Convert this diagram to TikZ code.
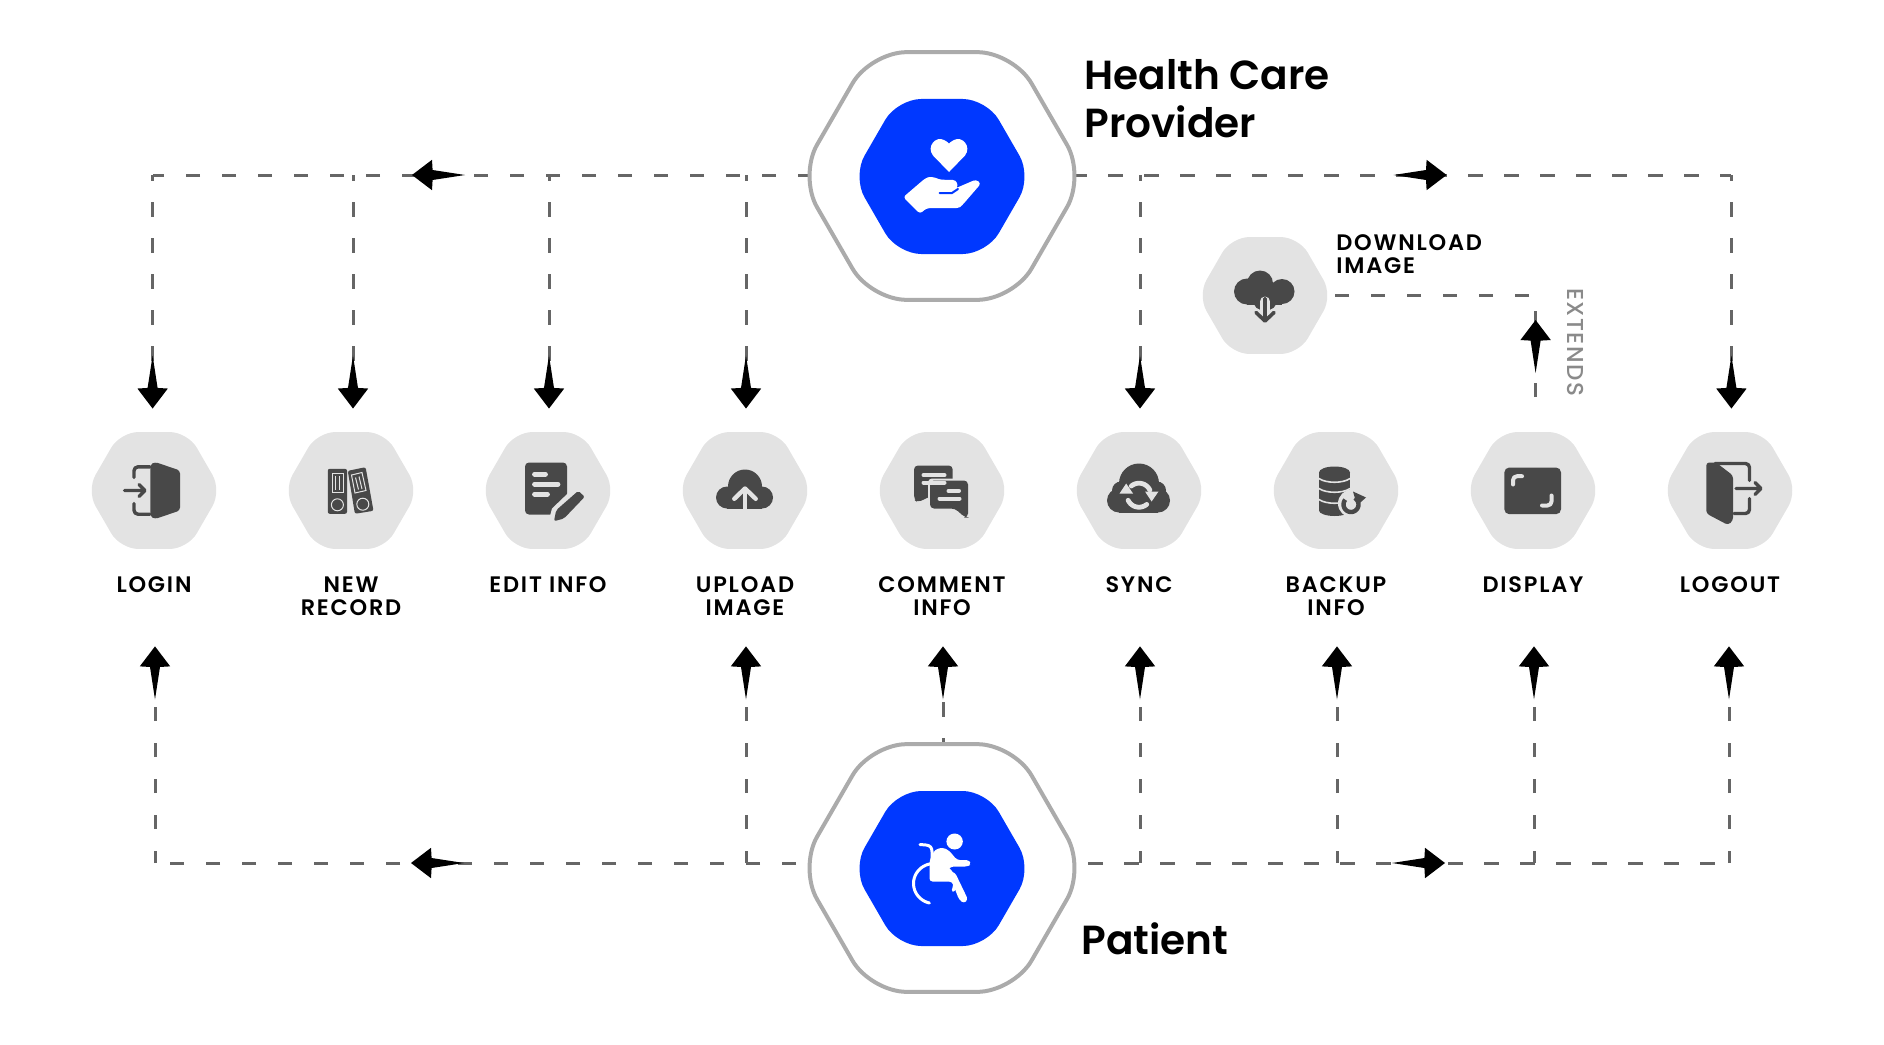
\documentclass[tikz,border=0pt]{standalone}
\usepackage{fontspec}
\setmainfont{Poppins}
\newfontfamily\titlefont{Poppins SemiBold}
\newfontfamily\labelfont[LetterSpace=8]{Poppins SemiBold}
\newfontfamily\extfont[LetterSpace=6.5]{Poppins Medium}
\usetikzlibrary{arrows.meta,shapes.geometric,backgrounds,decorations.markings}
\pgfdeclarearrow{
  name=LongKite,
  setup code={\pgfarrowssettipend{0pt}\pgfarrowssetbackend{-26.5pt}\pgfarrowssetlineend{-20pt}},
  drawing code={
    \pgfsetfillcolor{black}
    \pgfpathmoveto{\pgfpoint{0pt}{0pt}}
    \pgfpathlineto{\pgfpoint{-10pt}{7.6pt}}
    \pgfpathlineto{\pgfpoint{-10.3pt}{2.5pt}}
    \pgfpathlineto{\pgfpoint{-26.5pt}{0pt}}
    \pgfpathlineto{\pgfpoint{-10.3pt}{-2.5pt}}
    \pgfpathlineto{\pgfpoint{-10pt}{-7.6pt}}
    \pgfpathclose
    \pgfusepathqfill
  }
}
\definecolor{hexgray}{HTML}{E3E3E3}
\definecolor{icondark}{HTML}{484848}
\definecolor{heroblue}{HTML}{0038FF}
\definecolor{ringgray}{HTML}{ABABAB}
\definecolor{dashgray}{HTML}{666666}
\definecolor{extgray}{HTML}{8A8A8A}
\tikzset{
  hexbase/.style={regular polygon,regular polygon sides=6,inner sep=0pt,outer sep=0pt},
  smallhex/.style={hexbase,minimum size=67.5pt,fill=hexgray,rounded corners=9pt},
  ringhex/.style={hexbase,minimum size=143pt,fill=white,draw=ringgray,line width=2pt,rounded corners=18pt},
  bluehex/.style={hexbase,minimum size=89.5pt,fill=heroblue,rounded corners=12pt},
  lab/.style={font=\labelfont\fontsize{11.2}{11.4}\selectfont,align=center,inner sep=0pt,text=black},
  ttl/.style={font=\titlefont\fontsize{20.3}{24}\selectfont,align=left,inner sep=0pt,text=black},
  conn/.style={draw=dashgray,line width=1.5pt,dash pattern=on 7.25pt off 10.75pt},
  kitehead/.style={-{LongKite}},
  markhead/.style={postaction={decorate},decoration={markings,mark=at position #1 with {\arrow{LongKite}}}},
  ic/.style={fill=icondark},
  icl/.style={draw=icondark,line width=1.7pt,line cap=round,line join=round},
  gl/.style={draw=hexgray,line width=1.7pt,line cap=round,line join=round},
  wl/.style={draw=white,line width=1.5pt,line cap=round,line join=round},
}
\begin{document}
\begin{tikzpicture}[x=0.5pt,y=-0.5pt]
\useasboundingbox (0,0) rectangle (1884,1044);
% hexagon nodes
\node[ringhex] (hcp) at (942,176) {};
\node[bluehex] (hcpin) at (942,176.5) {};
\node[ringhex] (pat) at (942,868) {};
\node[bluehex] (patin) at (942,868.5) {};
\node[smallhex] (login) at (154,490.5) {};
\node[smallhex] (newrec) at (351,490.5) {};
\node[smallhex] (edit) at (548,490.5) {};
\node[smallhex] (upload) at (745,490.5) {};
\node[smallhex] (comment) at (942,490.5) {};
\node[smallhex] (sync) at (1139,490.5) {};
\node[smallhex] (backup) at (1336,490.5) {};
\node[smallhex] (display) at (1533,490.5) {};
\node[smallhex] (logout) at (1730,490.5) {};
\node[smallhex] (dl) at (1265,295.5) {};
% labels
\node[ttl,anchor=base west] (thcp) at (1084,137.5) {Health Care\\Provider};
\node[ttl,anchor=base west] (tpat) at (1081,954) {Patient};
\foreach \n/\t in {login/LOGIN,edit/EDIT INFO,sync/SYNC,display/DISPLAY,logout/LOGOUT}
  \node[lab,anchor=base] (l\n) at ([yshift=-21.9pt]\n.south) {\t};
\foreach \n/\t in {newrec/NEW\\RECORD,upload/UPLOAD\\IMAGE,comment/COMMENT\\INFO,backup/BACKUP\\INFO}
  \node[lab,anchor=base] (l\n) at ([yshift=-33.3pt]\n.south) {\t};
\node[lab,anchor=base west,align=left] (ldl) at (1336,273) {DOWNLOAD\\IMAGE};
\node[font=\extfont\fontsize{11.5}{12}\selectfont,text=extgray,rotate=-90,inner sep=0pt] (lext) at (1575.5,342) {EXTENDS};
% connectors
\coordinate (tt) at ([yshift=.5pt]hcp.center);
\coordinate (bt) at ([yshift=2.5pt]pat.center);
\begin{scope}[on background layer]
\draw[conn,dash phase=7pt,markhead=265pt] (tt) -- ([xshift=-.7pt]login.north |- tt);
\draw[conn,dash phase=7pt,markhead=252.3pt] (tt) -- ([xshift=.7pt]logout.north |- tt);
\draw[conn,dash phase=17pt,markhead=265.5pt] (bt) -- ([xshift=.5pt]login.south |- bt);
\draw[conn,dash phase=17pt,markhead=251.5pt] (bt) -- ([xshift=-.5pt]logout.south |- bt);
\foreach \n/\s in {login/-.7,newrec/1,edit/.5,upload/.5,sync/.5,logout/.7}
  \draw[conn,dash phase=4.4pt,kitehead] ([xshift=\s pt]\n.north |- tt) -- ([xshift=\s pt,yshift=11.75pt]\n.north);
\foreach \n/\s in {login/.5,upload/.5,sync/.5,backup/.5,display/.5,logout/-.5}
  \draw[conn,dash phase=1pt,kitehead] ([xshift=\s pt]\n.south |- bt) -- ([xshift=\s pt,yshift=-48.7pt]\n.south);
\draw[conn,dash phase=4.4pt,kitehead] ([xshift=.5pt]pat.north) -- ([xshift=.5pt,yshift=-48.7pt]comment.south);
\draw[conn,markhead=38.5pt] ([xshift=1.3pt,yshift=17.5pt]display.north) |- ([xshift=1pt]dl.east);
\end{scope}
% icon: login
\begin{scope}[shift={(login.center)}]
\fill[ic,rounded corners=1.5pt] (-3.6,-26)--(1,-28.5)--(26,-20)--(26,20)--(1,28.5)--(-3.6,26)--cycle;
\draw[icl,rounded corners=2pt] (-4,-23.7)--(-20,-23.7)--(-20,-13);
\draw[icl,rounded corners=2pt] (-20,13)--(-20,23.7)--(-4,23.7);
\draw[icl] (-29.5,0)--(-10,0) (-15,-6)--(-9,0)--(-15,6);
\end{scope}
% icon: new record
\begin{scope}[shift={(newrec.center)}]
\fill[ic,rounded corners=1pt] (-23.2,-21.7) rectangle (-4,23.3);
\fill[ic,rounded corners=1pt] (-3.2,-19.7)--(14.6,-23.3)--(22.5,20.3)--(3.9,23.3)--cycle;
\draw[hexgray,line width=.5pt] (-19,-17.5) rectangle (-8,1.5) (-15.5,-14.5)--(-15.5,-1) (-11.5,-14.5)--(-11.5,-1);
\draw[hexgray,line width=.5pt] (-13.6,14.3) circle[radius=6];
\draw[hexgray,line width=.5pt] (0.5,-15.5)--(11,-18)--(15,0)--(4,2.5)--cycle (4.5,-13)--(7.5,-1) (8,-14)--(11,-1.5);
\draw[hexgray,line width=.5pt] (11.8,13.7) circle[radius=6];
\end{scope}
% icon: edit
\begin{scope}[shift={(edit.center)}]
\fill[ic,rounded corners=2pt] (-23,-28) rectangle (19,24);
\draw[gl,line width=2.4pt] (-13.5,-16.3)--(-2.5,-16.3) (-13.5,-6.3)--(10,-6.3) (-13.5,3.7)--(-.5,3.7);
\fill[hexgray] (4,18) -- (28,-5) -- (42,8) -- (18,33) -- (0,33) -- cycle;
\fill[ic,rounded corners=1pt] (8.2,19.7)--(30.3,.3)--(36.7,6.3)--(16,28)--(6,30.7)--cycle;
\end{scope}
% icon: upload
\begin{scope}[shift={(upload.center)}]
\fill[ic] (-18,7) circle[radius=11];
\fill[ic] (17,7) circle[radius=11];
\fill[ic] (0,-4) circle[radius=17];
\fill[ic] (-18,-2) rectangle (17,18);
\draw[gl,line width=2.2pt] (-10.7,8.3)--(0,-2)--(10.7,8.3);
\draw[hexgray,line width=2.2pt] (0,-2)--(0,18);
\end{scope}
% icon: comment
\begin{scope}[shift={(comment.center)}]
\fill[ic,rounded corners=2pt] (-28,-25)--(10.7,-25)--(10.7,0)--(-12,6)--(-24.5,12)--(-28,9)--cycle;
\fill[hexgray,rounded corners=2pt] (-14,-12) rectangle (28,17);
\fill[ic,rounded corners=2pt] (-12,-10)--(26,-10)--(26,27)--(23,27)--(13,18)--(-12,18)--cycle;
\draw[gl,line width=2pt] (-18.5,-15.3)--(2.5,-15.3) (-18.5,-8)--(2.5,-8) (6.5,.3)--(17,.3) (-2.5,8)--(17.5,8);
\end{scope}
% icon: sync
\begin{scope}[shift={(sync.center)}]
\fill[ic] (-20,10) circle[radius=12];
\fill[ic] (19,10) circle[radius=12];
\fill[ic] (0,-7) circle[radius=20];
\fill[ic] (-20,-2) rectangle (19,22);
\fill[ic] (-18,0) circle[radius=9];
\fill[ic] (18,0) circle[radius=9];
\draw[gl,line width=2.4pt] plot[domain=-130:-25,samples=16,smooth] ({12*cos(\x)},{4.7+12*sin(\x)});
\draw[gl,line width=2.4pt] plot[domain=50:155,samples=16,smooth] ({12*cos(\x)},{4.7+12*sin(\x)});
\fill[hexgray] (6,1)--(19.5,1)--(12.6,11)--cycle;
\fill[hexgray] (-19.5,3)--(-6,3)--(-12.8,-7)--cycle;
\end{scope}
% icon: backup
\begin{scope}[shift={(backup.center)}]
\fill[ic] (-17,-18) rectangle (14,20);
\fill[ic] (-1.5,-18) ellipse[x radius=15.5,y radius=6];
\fill[ic] (-1.5,20) ellipse[x radius=15.5,y radius=5.5];
\draw[gl,line width=.8pt] (-17,-12) .. controls (-10,-7) and (7,-7) .. (14,-12);
\draw[gl,line width=.8pt] (-17,-2) .. controls (-10,3) and (7,3) .. (14,-2);
\draw[gl,line width=.8pt] (-17,9) .. controls (-10,14) and (7,14) .. (14,9);
\fill[hexgray] (16,13) circle[radius=14];
\draw[icl,line width=2.2pt,line cap=butt] plot[domain=-60:220,samples=24,smooth] ({15+7.5*cos(\x)},{14+7.5*sin(\x)});
\fill[ic] (17,1)--(30,7)--(21,15)--cycle;
\end{scope}
% icon: display
\begin{scope}[shift={(display.center)}]
\fill[ic,rounded corners=2.5pt] (-28.7,-23) rectangle (28,23.7);
\draw[gl,line width=2pt,rounded corners=2pt] (-20,-6)--(-20,-14.3)--(-11,-14.3);
\draw[gl,line width=2pt,rounded corners=2pt] (18.5,5)--(18.5,15)--(9,15);
\end{scope}
% icon: logout
\begin{scope}[shift={(logout.center)}]
\draw[icl,rounded corners=2pt] (-15,-27)--(19.5,-27)--(19.5,-10);
\draw[icl,rounded corners=2pt] (19.5,8)--(19.5,23)--(4,23);
\fill[ic,rounded corners=1.5pt] (-23.7,-28)--(-14,-28)--(3,-15)--(3,30)--(-2,34.5)--(-23.7,23)--cycle;
\draw[icl] (6,-2)--(30,-2) (25,-8)--(31,-2)--(25,4);
\end{scope}
% icon: download
\begin{scope}[shift={(dl.center)}]
\fill[ic] (-18,-4) circle[radius=13];
\fill[ic] (17,-4) circle[radius=12.5];
\fill[ic] (-5,-12) circle[radius=13];
\fill[ic] (0,4) circle[radius=12];
\fill[ic] (-18,-4) rectangle (17,9);
\draw[hexgray,line width=5pt,line cap=round] (0,6)--(0,20);
\draw[hexgray,line width=4.5pt,line cap=round,line join=round] (-9,17)--(0,25.5)--(9,17);
\draw[icl,line width=1.8pt] (0,3)--(0,25) (-9,17)--(0,25.5)--(9,17);
\end{scope}
% icon: heart and hand
\begin{scope}[shift={(hcpin.center)}]
\fill[white] (7,-4.5) -- (-9,-21) .. controls (-16,-30) and (-6,-41) .. (2,-36.5) .. controls (5,-35) and (7,-33) .. (7,-33) .. controls (7,-33) and (9,-35) .. (12,-36.5) .. controls (20,-41) and (30,-30) .. (23,-21) -- cycle;
\fill[white,rounded corners=1.5pt] (-38.8,20.7) -- (-17,2) .. controls (-12,0) and (-7,1) .. (-3,3) -- (8,3.5) .. controls (15,3.5) and (16,9) .. (13,12) -- (34,3) -- (39,7) -- (20,29) -- (16.6,31.7) -- (-15.6,31.7) -- (-22,37.3) -- cycle;
\draw[heroblue,line width=1pt,line cap=round] (-2.4,16.5)--(10,16.5)--(16,12.5);
\end{scope}
% icon: wheelchair
\begin{scope}[shift={(patin.center)}]
\fill[white] (12.6,-27) ellipse[x radius=8.2,y radius=8];
\fill[white,rounded corners=1.5pt] (-12.5,-8)--(-7,-19)--(1,-21)--(7,-18)--(15,-8.5)--(27,-8.5)--(29,-4.5)--(26,-2)--(9,-2)--(5,2)--(13,4)--(26,31)--(22,35)--(17,31)--(10,13)--(-12.5,13)--cycle;
\draw[wl] plot[domain=-257:20,samples=40,smooth] ({-8+20.5*cos(\x)},{15+20*sin(\x)});
\draw[wl] (-22,-24)--(-16,-23.5) .. controls (-12,-23) and (-10,-21) .. (-10,-17)--(-10,-6);
\end{scope}
\end{tikzpicture}
\end{document}
